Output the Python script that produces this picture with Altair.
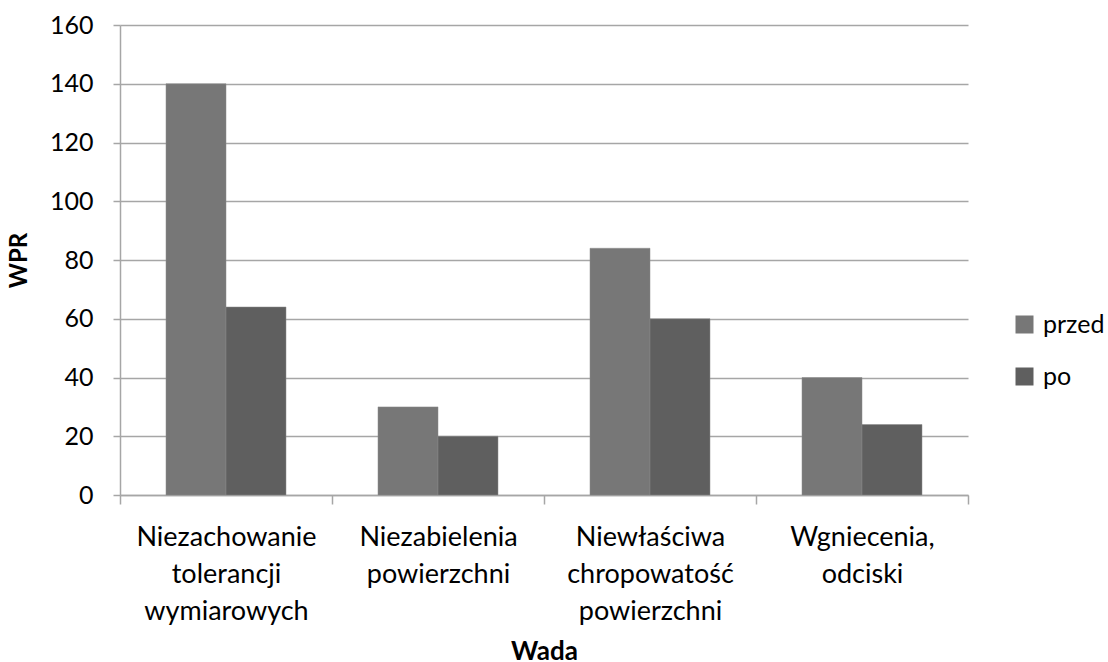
import altair as alt
import pandas as pd

# Defect categories (labels split into lines with "|")
wady = [
    "Niezachowanie|tolerancji|wymiarowych",
    "Niezabielenia|powierzchni",
    "Niewłaściwa|chropowatość|powierzchni",
    "Wgniecenia,|odciski",
]
przed = [140, 30, 84, 40]
po = [64, 20, 60, 24]
serie = ["przed", "po"]
kolory = ["#777777", "#5f5f5f"]
wartosci_osi = [0, 20, 40, 60, 80, 100, 120, 140, 160]

rows = []
for w, a, b in zip(wady, przed, po):
    rows.append({"Wada": w, "Seria": "przed", "WPR": a})
    rows.append({"Wada": w, "Seria": "po", "WPR": b})
df = pd.DataFrame(rows)

FONT = "Lato"
AXIS_GREY = "#a6a6a6"

chart = (
    alt.Chart(df)
    .mark_bar(stroke="#8a8a8a", strokeWidth=0.5)
    .encode(
        x=alt.X(
            "Wada:N",
            sort=wady,
            title="Wada",
            scale=alt.Scale(paddingInner=0, paddingOuter=0),
            axis=alt.Axis(
                labelAngle=0,
                labelExpr="split(datum.label, '|')",
                labelLineHeight=37,
                labelFontSize=27,
                labelPadding=20,
                labelLimit=0,
                labelColor="#000000",
                labelFont=FONT,
                tickBand="extent",
                tickSize=9,
                tickWidth=1.5,
                tickColor=AXIS_GREY,
                domainColor=AXIS_GREY,
                domainWidth=1.5,
                titleFontSize=26,
                titleFont=FONT,
                titleFontWeight="bold",
                titlePadding=14,
                grid=False,
            ),
        ),
        xOffset=alt.XOffset(
            "Seria:N", sort=serie, scale=alt.Scale(paddingInner=0, paddingOuter=0.767)
        ),
        y=alt.Y(
            "WPR:Q",
            title="WPR",
            scale=alt.Scale(domain=[0, 160], nice=False),
            axis=alt.Axis(
                values=wartosci_osi,
                labelFontSize=25,
                labelFont=FONT,
                labelColor="#000000",
                labelPadding=20,
                tickSize=7,
                tickWidth=1.5,
                tickColor=AXIS_GREY,
                domainColor=AXIS_GREY,
                domainWidth=1.5,
                gridColor=AXIS_GREY,
                gridWidth=1.5,
                titleFontSize=24,
                titleFont=FONT,
                titleFontWeight="bold",
                titlePadding=18,
            ),
        ),
        color=alt.Color(
            "Seria:N",
            sort=serie,
            scale=alt.Scale(domain=serie, range=kolory),
            legend=alt.Legend(
                title=None,
                orient="none",
                legendX=892,
                legendY=287,
                symbolType="square",
                symbolSize=324,
                symbolStrokeWidth=0,
                labelFontSize=25,
                labelFont=FONT,
                labelColor="#000000",
                rowPadding=26,
                labelOffset=6,
            ),
        ),
    )
    .properties(
        width=848,
        height=470,
        background="#ffffff",
        autosize=alt.AutoSizeParams(type="none"),
        padding={"left": 120, "top": 25, "right": 140, "bottom": 167},
    )
    .configure_view(strokeOpacity=0, strokeWidth=0)
)

chart.save("out.html", embed_options={"renderer": "svg", "actions": False})
